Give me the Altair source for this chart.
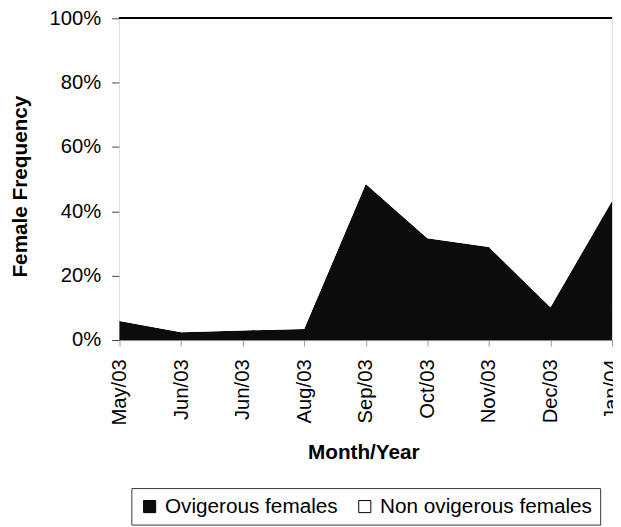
import altair as alt
import pandas as pd

months = ["May/03", "Jun/03", "Jun/03", "Aug/03", "Sep/03", "Oct/03", "Nov/03", "Dec/03", "Jan/04"]
ovigerous_pct = [5.9, 2.4, 3.0, 3.4, 48.5, 31.6, 28.9, 10.2, 43.2]
series = ["Ovigerous females", "Non ovigerous females"]
series_colors = ["#0c0c0a", "#ffffff"]
y_ticks = [0, 0.2, 0.4, 0.6, 0.8, 1.0]

rows = []
for i, (m, v) in enumerate(zip(months, ovigerous_pct)):
    rows.append({"idx": i, "month": m, "series": series[0], "order": 0, "freq": v / 100})
    rows.append({"idx": i, "month": m, "series": series[1], "order": 1, "freq": (100 - v) / 100})
df = pd.DataFrame(rows)

label_expr = "[" + ",".join("'" + m + "'" for m in months) + "][datum.value]"
FONT = "Liberation Sans"

x_enc = alt.X(
    "idx:Q",
    scale=alt.Scale(domain=[0, len(months) - 1], nice=False, zero=False),
    axis=alt.Axis(
        values=list(range(len(months))),
        labelExpr=label_expr,
        labelAngle=270,
        labelFlush=False,
        labelOverlap=False,
        labelFont=FONT,
        labelFontSize=20.5,
        labelColor="#000000",
        labelPadding=13,
        tickSize=6,
        tickColor="#999999",
        domainColor="#888888",
        grid=False,
        title="Month/Year",
        titleFont=FONT,
        titleFontSize=21,
        titleFontWeight="bold",
        titleColor="#000000",
        titleX=247,
        titleY=120,
        titleBaseline="alphabetic",
    ),
)

y_enc = alt.Y(
    "freq:Q",
    stack="zero",
    scale=alt.Scale(domain=[0, 1], nice=False),
    axis=alt.Axis(
        values=y_ticks,
        format=".0%",
        labelFont=FONT,
        labelFontSize=20.5,
        labelColor="#000000",
        labelPadding=11,
        tickSize=8,
        tickColor="#444444",
        domainColor="#888888",
        grid=False,
        title="Female Frequency",
        titleFont=FONT,
        titleFontSize=21,
        titleFontWeight="bold",
        titleColor="#000000",
        titleAngle=270,
        titleAlign="center",
        titleBaseline="middle",
        titleX=-100,
        titleY=170,
    ),
)

areas = alt.Chart(df).mark_area(opacity=1).encode(
    x=x_enc,
    y=y_enc,
    color=alt.Color(
        "series:N",
        scale=alt.Scale(domain=series, range=series_colors),
        legend=alt.Legend(
            orient="none",
            legendX=12,
            legendY=476,
            direction="horizontal",
            title=None,
            symbolType="square",
            symbolSize=150,
            symbolStrokeColor="#000000",
            symbolStrokeWidth=1,
            labelFont=FONT,
            labelFontSize=21,
            labelColor="#000000",
            labelLimit=0,
            labelOffset=5,
            columnPadding=16,
            padding=8,
            strokeColor="#333333",
            fillColor="#ffffff",
        ),
    ),
    order=alt.Order("order:Q"),
)

top_line = alt.Chart(df).mark_rule(color="#000000", strokeWidth=1.5).encode(
    y=alt.datum(1)
)

chart = alt.layer(areas, top_line).properties(
    width=499,
    height=326,
    autosize=alt.AutoSizeParams(type="none"),
    padding={"left": 113, "top": 7, "right": 1, "bottom": 186},
).configure_view(
    stroke="#888888", strokeWidth=1
).configure(background="#ffffff")

chart.save("out.html", embed_options={"renderer": "svg", "actions": False})
